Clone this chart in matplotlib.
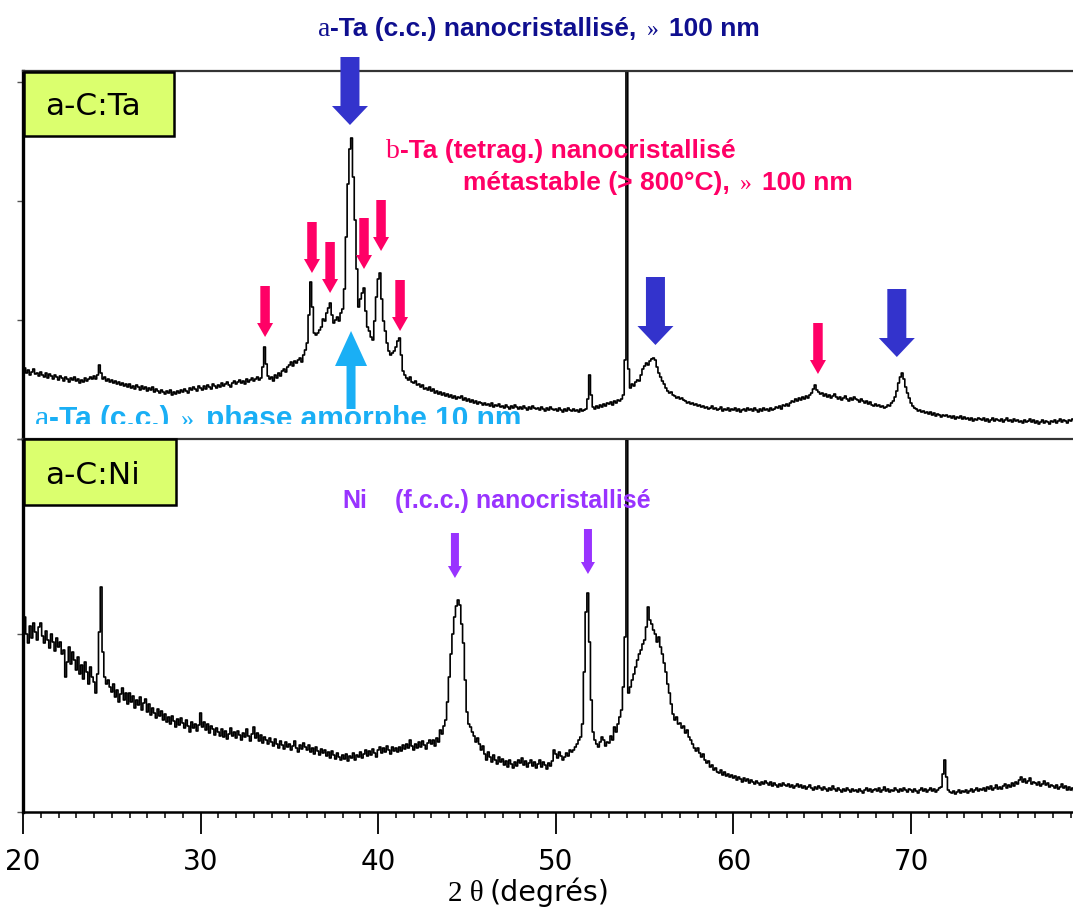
"""
xrd_nanocomposites.py
Diffractogrammes X des couches a-C:Ta et a-C:Ni avec les pics indexes.
Les intensites sont relevees sur la figure d'origine (pas de 0.1 deg).
"""

import numpy as np
import matplotlib
matplotlib.use("Agg")
import matplotlib.pyplot as plt
from matplotlib.patches import Rectangle, FancyArrow
from matplotlib.ticker import MultipleLocator
from matplotlib.transforms import blended_transform_factory

W, H = 1073, 908          # output size in pixels (dpi 100)

THETA_START, THETA_STEP = 20.0, 0.1
X_MIN, X_MAX = 20.0, 79.12

# a-C:Ta intensity, one row per degree (20.0 ... 79.2)
counts_ta = [
    68, 71, 66, 69, 64, 67, 70, 65, 66, 63,
    67, 64, 62, 66, 61, 65, 63, 60, 64, 62,
    59, 63, 61, 58, 62, 60, 57, 61, 59, 62,
    58, 60, 56, 59, 57, 61, 58, 60, 62, 60,
    63, 60, 64, 74, 66, 60, 62, 58, 60, 57,
    59, 56, 58, 55, 57, 54, 56, 53, 55, 52,
    55, 51, 53, 50, 54, 52, 49, 53, 50, 52,
    48, 51, 49, 52, 47, 50, 48, 46, 49, 47,
    45, 48, 46, 49, 44, 47, 45, 48, 46, 49,
    47, 50, 48, 46, 51, 49, 52, 50, 48, 53,
    51, 49, 53, 50, 54, 52, 50, 55, 53, 51,
    54, 52, 56, 53, 55, 57, 54, 52, 56, 58,
    55, 57, 59, 56, 58, 55, 60, 57, 59, 61,
    58, 60, 62, 59, 61, 72, 92, 75, 63, 60,
    62, 58, 64, 61, 66, 63, 68, 70, 67, 72,
    74, 77, 73, 78, 76, 79, 81, 77, 84, 89,
    96, 124, 157, 132, 106, 104, 106, 109, 112, 120,
    118, 126, 131, 136, 124, 116, 119, 122, 118, 126,
    130, 150, 202, 255, 290, 301, 262, 219, 170, 132,
    140, 146, 151, 128, 112, 108, 102, 99, 118, 142,
    160, 166, 140, 118, 108, 96, 88, 84, 86, 88,
    92, 98, 101, 84, 68, 64, 61, 59, 62, 57,
    56, 58, 54, 55, 52, 54, 50, 51, 49, 52,
    48, 50, 46, 48, 45, 47, 44, 46, 43, 45,
    42, 44, 41, 43, 40, 42, 41, 43, 39, 41,
    38, 40, 37, 39, 36, 38, 35, 37, 36, 34,
    36, 34, 35, 33, 36, 32, 34, 33, 35, 32,
    33, 31, 34, 32, 30, 33, 31, 34, 32, 30,
    32, 30, 33, 31, 29, 32, 30, 33, 31, 30,
    31, 29, 32, 30, 28, 31, 29, 32, 30, 29,
    30, 28, 31, 29, 27, 30, 28, 31, 29, 28,
    30, 28, 29, 27, 30, 28, 29, 30, 40, 64,
    44, 32, 30, 33, 31, 34, 32, 35, 33, 36,
    35, 37, 34, 38, 36, 39, 38, 40, 44, 79,
    370, 70, 51, 55, 53, 57, 59, 58, 64, 70,
    73, 76, 74, 78, 80, 81, 79, 72, 66, 62,
    58, 55, 51, 48, 46, 47, 44, 43, 41, 42,
    40, 41, 39, 38, 36, 37, 35, 36, 34, 35,
    33, 34, 32, 33, 31, 32, 30, 31, 33, 30,
    31, 29, 30, 32, 28, 30, 29, 31, 28, 30,
    29, 31, 28, 30, 27, 29, 30, 28, 31, 29,
    30, 28, 31, 29, 27, 30, 28, 31, 29, 30,
    28, 31, 29, 30, 32, 31, 33, 30, 34, 33,
    35, 33, 36, 38, 37, 40, 38, 41, 39, 42,
    40, 43, 41, 44, 46, 50, 54, 49, 47, 45,
    46, 43, 45, 42, 44, 41, 43, 45, 42, 40,
    42, 39, 41, 43, 40, 38, 41, 39, 42, 40,
    39, 37, 40, 38, 36, 38, 35, 37, 34, 33,
    35, 33, 34, 32, 33, 31, 32, 34, 33, 36,
    38, 42, 48, 56, 62, 66, 60, 52, 46, 41,
    36, 33, 31, 30, 28, 29, 27, 28, 26, 27,
    25, 27, 24, 26, 23, 25, 24, 22, 24, 23,
    24, 22, 23, 21, 23, 20, 22, 21, 23, 20,
    22, 20, 21, 19, 21, 18, 20, 19, 21, 20,
    19, 21, 18, 20, 17, 19, 21, 18, 20, 19,
    18, 20, 17, 19, 21, 18, 19, 17, 20, 18,
    19, 17, 18, 16, 19, 17, 18, 20, 17, 19,
    16, 18, 15, 17, 19, 16, 18, 17, 15, 18,
    17, 19, 16, 18, 20, 17, 19, 18, 16, 19,
    18, 20, 19,
]

# a-C:Ni intensity, same grid
counts_ni = [
    182, 195, 178, 169, 186, 174, 189, 180, 172, 185,
    189, 176, 169, 181, 172, 164, 178, 170, 161, 174,
    165, 170, 158, 162, 135, 150, 165, 148, 160, 152,
    142, 155, 138, 147, 133, 150, 140, 128, 145, 135,
    130, 119, 138, 180, 225, 160, 135, 128, 132, 125,
    120, 128, 115, 122, 110, 118, 124, 112, 119, 108,
    119, 110, 116, 104, 112, 107, 115, 102, 109, 113,
    100, 108, 97, 104, 99, 94, 103, 96, 101, 92,
    98, 90, 95, 88, 96, 91, 85, 93, 87, 94,
    89, 84, 92, 86, 80, 90, 84, 88, 81, 87,
    99, 85, 90, 82, 88, 79, 86, 83, 77, 84,
    80, 76, 83, 75, 81, 73, 78, 84, 76, 80,
    74, 81, 77, 72, 79, 75, 83, 76, 71, 78,
    85, 74, 79, 71, 77, 69, 75, 72, 68, 74,
    70, 66, 73, 68, 64, 71, 67, 63, 70, 65,
    68, 62, 66, 71, 64, 60, 67, 63, 69, 65,
    62, 67, 60, 64, 58, 65, 61, 57, 63, 59,
    62, 56, 60, 54, 61, 57, 53, 59, 55, 52,
    57, 53, 58, 51, 56, 54, 59, 52, 57, 55,
    60, 54, 58, 62, 56, 61, 57, 63, 59, 55,
    62, 65, 59, 64, 60, 66, 62, 58, 65, 61,
    64, 60, 65, 61, 67, 63, 68, 64, 72, 66,
    62, 68, 64, 70, 65, 71, 67, 63, 69, 72,
    68, 72, 66, 74, 70, 82, 78, 86, 92, 110,
    135, 158, 178, 195, 206, 212, 207, 188, 169, 132,
    100, 88, 85, 80, 76, 70, 74, 68, 62, 66,
    58, 52, 60, 55, 50, 57, 52, 48, 55, 50,
    53, 47, 51, 45, 52, 48, 44, 50, 46, 52,
    49, 54, 47, 51, 45, 49, 52, 46, 50, 44,
    48, 52, 45, 50, 47, 43, 49, 46, 51, 62,
    58, 54, 60, 56, 52, 55, 59, 56, 62, 60,
    62, 65, 68, 72, 75, 88, 140, 200, 219, 170,
    112, 80, 72, 68, 65, 70, 75, 72, 66, 70,
    69, 76, 72, 85, 80, 88, 95, 102, 125, 175,
    372, 119, 125, 132, 138, 145, 152, 158, 162, 168,
    172, 185, 205, 192, 188, 182, 178, 170, 175, 165,
    158, 149, 140, 128, 119, 108, 98, 92, 95, 88,
    89, 84, 86, 79, 82, 75, 72, 68, 64, 61,
    64, 59, 55, 58, 52, 49, 51, 45, 47, 42,
    44, 40, 39, 42, 37, 40, 36, 38, 35, 37,
    34, 36, 32, 35, 33, 30, 34, 31, 33, 29,
    32, 30, 28, 31, 29, 27, 30, 28, 31, 29,
    27, 30, 26, 29, 27, 25, 28, 26, 29, 27,
    26, 28, 25, 27, 24, 26, 28, 25, 27, 24,
    26, 23, 25, 27, 24, 22, 25, 23, 26, 24,
    22, 25, 23, 21, 24, 22, 26, 23, 21, 24,
    22, 20, 23, 21, 24, 22, 20, 23, 21, 22,
    20, 23, 21, 19, 22, 24, 21, 23, 20, 22,
    23, 21, 24, 20, 22, 25, 21, 23, 20, 22,
    21, 24, 22, 20, 23, 21, 24, 22, 20, 23,
    22, 20, 23, 21, 19, 22, 24, 21, 23, 20,
    22, 24, 21, 23, 20, 22, 24, 25, 38, 52,
    35, 22, 20, 19, 21, 18, 20, 22, 19, 21,
    20, 22, 19, 21, 23, 20, 22, 24, 21, 23,
    22, 24, 21, 25, 23, 26, 22, 24, 27, 23,
    25, 23, 26, 28, 24, 27, 25, 29, 26, 30,
    28, 32, 35, 30, 33, 29, 31, 34, 28, 30,
    29, 27, 30, 26, 28, 31, 27, 29, 25, 27,
    26, 24, 27, 23, 25, 28, 24, 26, 22, 25,
    22, 24, 21,
]

# indexed peaks (2 theta, deg)
alpha_ta_peaks = [38.41, 55.61, 69.2]
beta_ta_peaks = [33.63, 36.27, 37.29, 39.2, 40.16, 41.23, 64.76]
ni_peaks = [44.32, 51.81]
amorphous_peak = 38.47

x_ticks = [20, 30, 40, 50, 60, 70]
panel_labels = ["a-C:Ta", "a-C:Ni"]

NAVY = "#0f0f8f"
BLUE = "#3333cc"
PINK = "#ff0066"
CYAN = "#1aaff5"
PURPLE = "#9933ff"
LIME = "#dbff6e"

SANS_B = dict(fontfamily="Liberation Sans", fontweight="bold")
SERIF = dict(fontfamily="Liberation Serif")


def fx(px):
    return px / W


def fy(py):
    return 1 - py / H


def px2deg(px):
    return px * (X_MAX - X_MIN) / (1073 - 23)


def down_arrow(fig, ax, x, top, length, shaft, head, head_len, color):
    """Vertical arrow: x in data units, y/sizes in pixels."""
    tr = blended_transform_factory(ax.transData, fig.transFigure)
    arr = FancyArrow(x, fy(top), 0, -length / H, width=px2deg(shaft),
                     head_width=px2deg(head), head_length=head_len / H,
                     length_includes_head=True, transform=tr,
                     facecolor=color, edgecolor="none", zorder=5)
    fig.add_artist(arr)


def chain_text(ax, x, y, pieces, color, clip=None):
    """Write text pieces one after the other on a common baseline."""
    prev = None
    for s, style, gap in pieces:
        if prev is None:
            t = ax.annotate(s, xy=(fx(x), fy(y)), xycoords="figure fraction",
                            va="baseline", ha="left", color=color,
                            annotation_clip=False, **style)
        else:
            t = ax.annotate(s, xy=(1, fy(y)), xycoords=(prev, "figure fraction"),
                            xytext=(gap, 0), textcoords="offset points",
                            va="baseline", ha="left", color=color,
                            annotation_clip=False, **style)
        if clip is not None:
            t.set_clip_path(clip)
        prev = t


def style_panel(ax, ymax, yticks):
    ax.set_xlim(X_MIN, X_MAX)
    ax.set_ylim(0, ymax)
    ax.spines["right"].set_visible(False)
    ax.spines["top"].set_color("#333333")
    ax.spines["top"].set_linewidth(1.6)
    ax.spines["left"].set_color("black")
    ax.spines["left"].set_linewidth(2.4)
    ax.set_yticks(yticks)
    ax.tick_params(axis="y", which="both", left=True, length=4, width=1,
                   labelleft=False, color="#555555")
    ax.patch.set_alpha(0)


def main():
    two_theta = THETA_START + THETA_STEP * np.arange(len(counts_ta))

    fig = plt.figure(figsize=(W / 100, H / 100), dpi=100)

    ax_ta = fig.add_axes([fx(23), fy(439), fx(1073) - fx(23), fy(71) - fy(439)])
    ax_ni = fig.add_axes([fx(23), fy(812), fx(1073) - fx(23), fy(439) - fy(812)])

    ax_ta.plot(two_theta, counts_ta, color="black", lw=1.2, drawstyle="steps-mid")
    ax_ni.plot(two_theta, counts_ni, color="black", lw=1.2, drawstyle="steps-mid")

    style_panel(ax_ta, 368, [0, 119, 238, 357])
    ax_ta.spines["bottom"].set_visible(False)
    ax_ta.tick_params(axis="x", which="both", bottom=False, labelbottom=False)

    style_panel(ax_ni, 373, [0, 178, 373])
    ax_ni.spines["bottom"].set_linewidth(1.8)
    ax_ni.xaxis.set_major_locator(MultipleLocator(10))
    ax_ni.xaxis.set_minor_locator(MultipleLocator(1))
    ax_ni.set_xticks(x_ticks)
    ax_ni.set_xticklabels([str(v) for v in x_ticks], fontfamily="DejaVu Sans")
    ax_ni.tick_params(axis="x", which="major", length=16, width=1.3,
                      labelsize=20, pad=10)
    ax_ni.tick_params(axis="x", which="minor", length=4.5, width=1.1)

    # sample label boxes
    for label, (top, bot, right, base) in zip(panel_labels,
                                              [(72, 136, 174, 115), (439, 505, 176, 484)]):
        fig.add_artist(Rectangle((fx(24), fy(bot)), fx(right) - fx(24), fy(top) - fy(bot),
                                 transform=fig.transFigure, facecolor=LIME,
                                 edgecolor="black", lw=1.8, zorder=4))
        fig.text(fx(45), fy(base), label, fontsize=22.5, fontfamily="DejaVu Sans",
                 va="baseline", ha="left", zorder=6)

    # arrows: alpha-Ta (blue), beta-Ta (pink), Ni (purple)
    for x, top in zip(alpha_ta_peaks, [57, 277, 289]):
        down_arrow(fig, ax_ta, x, top, 68, 19, 36, 19, BLUE)
    for x, top in zip(beta_ta_peaks, [286, 222, 242, 218, 200, 280, 323]):
        down_arrow(fig, ax_ta, x, top, 51, 9.5, 16, 14, PINK)
    for x, top in zip(ni_peaks, [533, 529]):
        down_arrow(fig, ax_ni, x, top, 45, 8, 14, 12, PURPLE)
    # amorphous hump, arrow pointing up
    tr = blended_transform_factory(ax_ta.transData, fig.transFigure)
    fig.add_artist(FancyArrow(amorphous_peak, fy(409), 0, (409 - 331) / H,
                              width=px2deg(9), head_width=px2deg(32),
                              head_length=35 / H, length_includes_head=True,
                              transform=tr, facecolor=CYAN, edgecolor="none",
                              zorder=5))

    # annotations
    chain_text(ax_ta, 318, 36, [
        ("a", dict(SERIF, fontsize=20), 0),
        ("-Ta (c.c.) nanocristallisé,", dict(SANS_B, fontsize=19), 0),
        ("»", dict(SERIF, fontsize=17), 7),
        ("100 nm", dict(SANS_B, fontsize=19), 8),
    ], NAVY)
    chain_text(ax_ta, 386, 158, [
        ("b", dict(SERIF, fontsize=20), 0),
        ("-Ta (tetrag.) nanocristallisé", dict(SANS_B, fontsize=19), 0),
    ], PINK)
    chain_text(ax_ta, 463, 190, [
        ("métastable (> 800°C),", dict(SANS_B, fontsize=19), 0),
        ("»", dict(SERIF, fontsize=17), 7),
        ("100 nm", dict(SANS_B, fontsize=19), 8),
    ], PINK)
    clip = Rectangle((0, fy(424)), 1, fy(300) - fy(424), transform=fig.transFigure)
    chain_text(ax_ta, 35, 427, [
        ("a", dict(SERIF, fontsize=23), 0),
        ("-Ta (c.c.)", dict(SANS_B, fontsize=21.5), 0),
        ("»", dict(SERIF, fontsize=19), 8),
        ("phase amorphe 10 nm", dict(SANS_B, fontsize=21.5), 9),
    ], CYAN, clip=clip)
    chain_text(ax_ni, 342, 508, [
        ("Ni", dict(SANS_B, fontsize=18), 0),
        ("(f.c.c.) nanocristallisé", dict(SANS_B, fontsize=18), 20),
    ], PURPLE)

    # x axis title
    chain_text(ax_ni, 448, 901, [
        ("2 θ", dict(SERIF, fontsize=21), 0),
        ("(degrés)", dict(fontfamily="DejaVu Sans", fontsize=20.5), 4),
    ], "black")

    fig.savefig("out.png", dpi=100)
    plt.close(fig)


if __name__ == "__main__":
    main()
